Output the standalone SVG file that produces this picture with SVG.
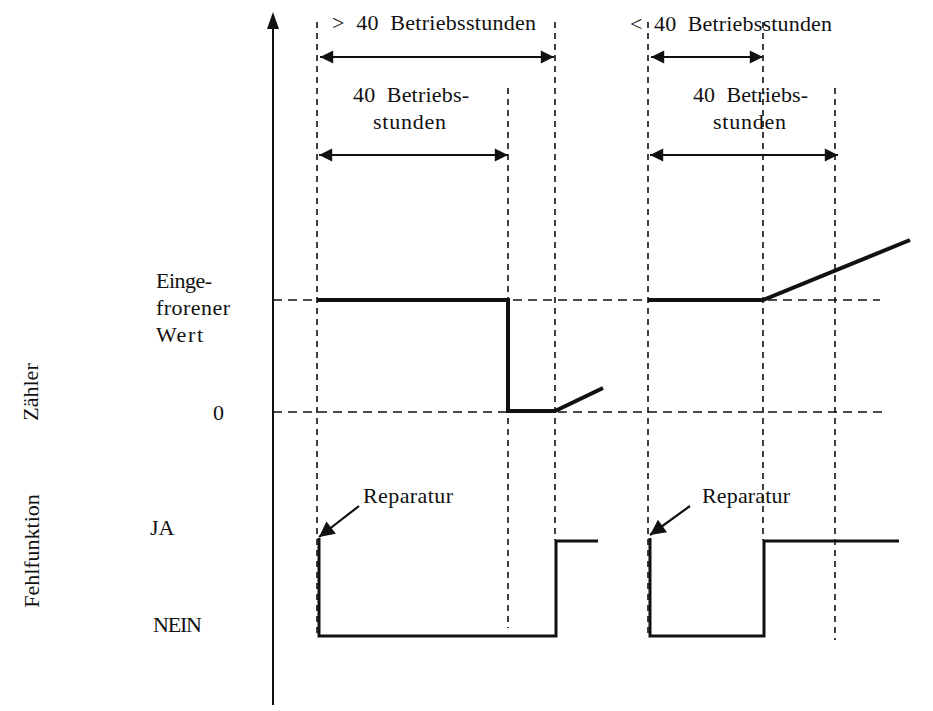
<svg xmlns="http://www.w3.org/2000/svg" width="933" height="711" viewBox="0 0 933 711">
<style>
text{font-family:"Liberation Serif","DejaVu Serif",serif;font-size:22px;fill:#111;white-space:pre}
.d{stroke:#111;stroke-width:1.6;fill:none;stroke-dasharray:6 5}
.dh{stroke:#111;stroke-width:1.6;fill:none;stroke-dasharray:9 6}
.a{stroke:#111;stroke-width:2.2;fill:none;marker-start:url(#ms);marker-end:url(#me)}
.s{stroke:#111;stroke-width:4;fill:none;stroke-linejoin:miter}
.f{stroke:#111;stroke-width:3;fill:none;stroke-linejoin:miter}
</style>
<defs>
<marker id="me" viewBox="0 0 10 10" refX="10" refY="5" markerWidth="7" markerHeight="6" markerUnits="strokeWidth" orient="auto"><path d="M0,0 L10,5 L0,10 z" fill="#111"/></marker>
<marker id="ms" viewBox="0 0 10 10" refX="0" refY="5" markerWidth="7" markerHeight="6" markerUnits="strokeWidth" orient="auto"><path d="M10,0 L0,5 L10,10 z" fill="#111"/></marker>
<marker id="ma" viewBox="0 0 10 10" refX="10" refY="5" markerWidth="8" markerHeight="7" markerUnits="strokeWidth" orient="auto"><path d="M0,0 L10,5 L0,10 z" fill="#111"/></marker>
</defs>
<rect width="933" height="711" fill="#fff"/>
<g id="axis">
<line x1="273" y1="26" x2="273" y2="705" stroke="#111" stroke-width="2"/>
<path d="M273,12 L279,29 L267,29 z" fill="#111"/>
</g>
<g id="grid">
<line class="dh" x1="273" y1="300" x2="880" y2="300"/>
<line class="dh" x1="273" y1="412" x2="883" y2="412"/>
<line class="d" x1="317" y1="22" x2="317" y2="636"/>
<line class="d" x1="555" y1="22" x2="555" y2="540"/>
<line class="d" x1="508" y1="88" x2="508" y2="628" stroke-width="2.2" stroke-dasharray="5 4"/>
<line class="d" x1="648" y1="22" x2="648" y2="636"/>
<line class="d" x1="763" y1="22" x2="763" y2="540"/>
<line class="d" x1="835" y1="88" x2="835" y2="640"/>
</g>
<g id="connectors">
<line class="a" x1="320" y1="57" x2="554" y2="57"/>
<line class="a" x1="319" y1="155" x2="508" y2="155"/>
<line class="a" x1="651" y1="57" x2="763" y2="57"/>
<line class="a" x1="650" y1="155" x2="838" y2="155"/>
<line x1="359" y1="506" x2="319" y2="537" stroke="#111" stroke-width="2.2" marker-end="url(#ma)"/>
<line x1="690" y1="506" x2="650" y2="535" stroke="#111" stroke-width="2.2" marker-end="url(#ma)"/>
</g>
<g id="zaehler-signal">
<polyline class="s" points="317,300 508,300 508,411 555,411 603,388"/>
<polyline class="s" points="648,300 763,300 910,240"/>
</g>
<g id="fehler-signal">
<polyline class="f" points="319,538 319,636 556,636 556,541 598,541"/>
<polyline class="f" points="650,538 650,636 764,636 764,541 899,541"/>
</g>
<g id="labels">
<text x="332" y="30" textLength="204" lengthAdjust="spacing">&gt;  40  Betriebsstunden</text>
<text x="630" y="31" textLength="202" lengthAdjust="spacing">&lt;  40  Betriebsstunden</text>
<text x="353" y="102" textLength="116" lengthAdjust="spacing">40  Betriebs-</text>
<text x="373" y="129" textLength="73" lengthAdjust="spacing">stunden</text>
<text x="693" y="102" textLength="115" lengthAdjust="spacing">40  Betriebs-</text>
<text x="713" y="129" textLength="73" lengthAdjust="spacing">stunden</text>
<text x="156" y="288" textLength="56" lengthAdjust="spacing">Einge-</text>
<text x="156" y="315" textLength="74" lengthAdjust="spacing">frorener</text>
<text x="156" y="342" textLength="47" lengthAdjust="spacing">Wert</text>
<text x="213" y="420">0</text>
<text x="150" y="535">JA</text>
<text x="153" y="632" textLength="49" lengthAdjust="spacing">NEIN</text>
<text x="363" y="503" textLength="90" lengthAdjust="spacing">Reparatur</text>
<text x="702" y="503" textLength="88" lengthAdjust="spacing">Reparatur</text>
<text transform="translate(38,392) rotate(-90)" text-anchor="middle">Zähler</text>
<text transform="translate(39,551) rotate(-90)" text-anchor="middle">Fehlfunktion</text>
</g>
</svg>
